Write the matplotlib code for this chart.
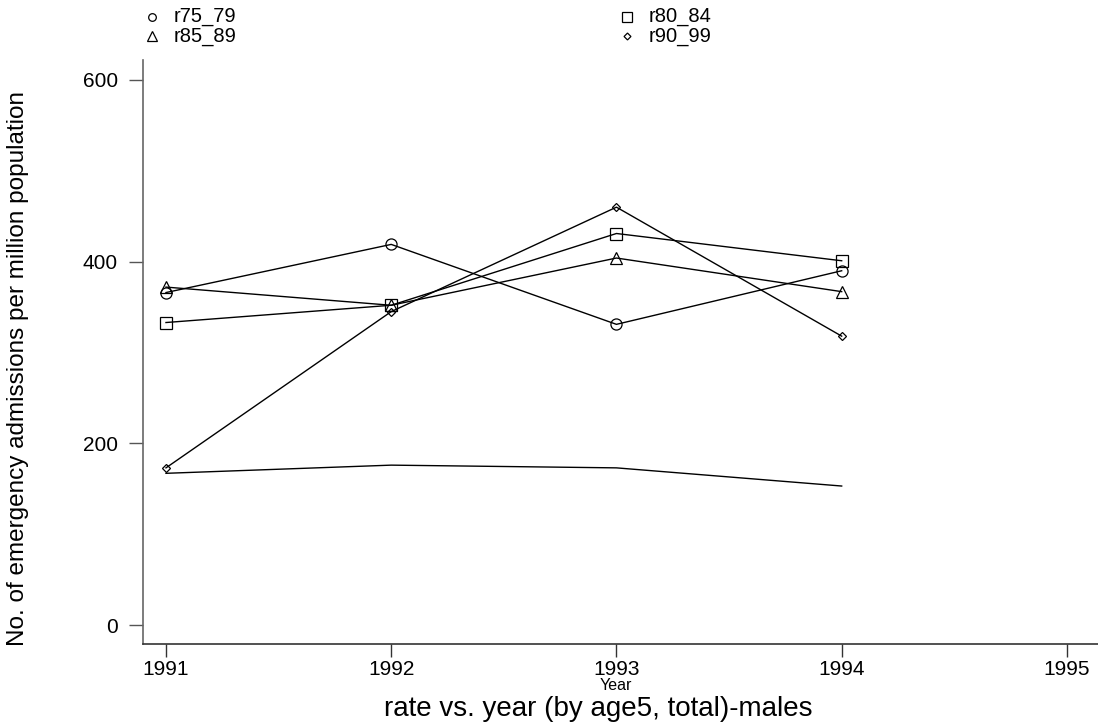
import matplotlib

matplotlib.use("Agg")
import matplotlib.pyplot as plt
from matplotlib.lines import Line2D

plt.rcParams["font.family"] = ["Liberation Sans", "DejaVu Sans"]

years = [1991, 1992, 1993, 1994]
r75_79 = [366, 419, 331, 390]
r80_84 = [333, 352, 431, 401]
r85_89 = [372, 352, 404, 367]
r90_99 = [173, 345, 460, 318]
total = [167, 176, 173, 153]

x_ticks = [1991, 1992, 1993, 1994, 1995]
y_ticks = [0, 200, 400, 600]

W, H = 1098, 725
fig = plt.figure(figsize=(W / 100, H / 100), dpi=100)
# axes box in pixels: left spine x=143, bottom spine y=644, top y=60
ax = fig.add_axes([143 / W, (H - 644) / H, (W - 143) / W, (644 - 60) / H])

lw = 1.0
ax.plot(years, r75_79, color="black", lw=lw, marker="o", ms=8, mfc="none", mec="black", mew=0.9)
ax.plot(years, r80_84, color="black", lw=lw, marker="s", ms=8.5, mfc="none", mec="black", mew=0.9)
ax.plot(years, r85_89, color="black", lw=lw, marker="^", ms=9, mfc="none", mec="black", mew=0.9)
ax.plot(years, r90_99, color="black", lw=lw, marker="D", ms=4.5, mfc="none", mec="black", mew=0.9)
ax.plot(years, total, color="black", lw=lw)

ax.set_xlim(1990.898, 1995.138)
ax.set_ylim(-20.9, 622)
ax.set_xticks(x_ticks)
ax.set_yticks(y_ticks)
ax.set_xticklabels([str(v) for v in x_ticks], fontsize=15)
ax.set_yticklabels([str(v) for v in y_ticks], fontsize=15)
ax.tick_params(axis="y", length=10, width=1, color="#555555", pad=8)
ax.tick_params(axis="x", length=9.5, width=1, color="#333333", pad=2)
for side in ("top", "right"):
    ax.spines[side].set_visible(False)
ax.spines["left"].set_color("#666666")
ax.spines["bottom"].set_color("#333333")
ax.spines["left"].set_linewidth(1.2)
ax.spines["bottom"].set_linewidth(1.2)

fig.text(18 / W, 1 - 369 / H, "No. of emergency admissions per million population",
         rotation=90, ha="center", va="center", fontsize=17.5)

fig.text(616 / W, 1 - 685 / H, "Year", ha="center", va="center", fontsize=11.5)
fig.text(598 / W, 1 - 709 / H, "rate vs. year (by age5, total)-males", ha="center", va="center", fontsize=20)

# legend entries in figure coords
legend_items = [
    ("o", 5.5, 152, 17, "r75_79"),
    ("s", 6.5, 627, 17, "r80_84"),
    ("^", 7, 152, 36, "r85_89"),
    ("D", 3.5, 627, 36, "r90_99"),
]
for mk, ms, px, py, label in legend_items:
    fig.add_artist(Line2D([px / W], [1 - py / H], marker=mk, ms=ms, mfc="none", mec="black",
                          mew=0.9, ls="none", transform=fig.transFigure))
    fig.text((px + 22) / W, 1 - py / H, label, ha="left", va="center", fontsize=14.5)

fig.savefig("out.png", dpi=100)
